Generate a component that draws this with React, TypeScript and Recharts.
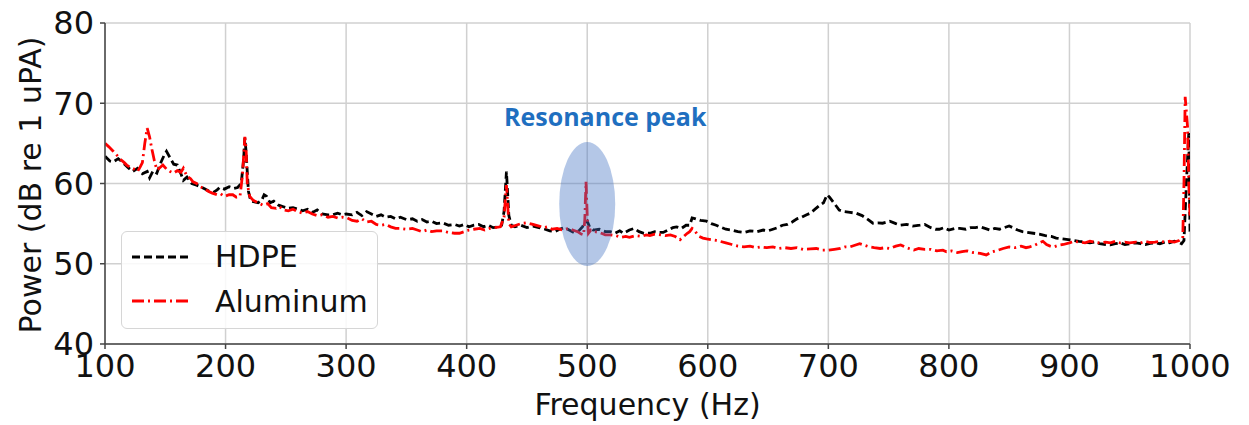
import React from "react";
import {
  CartesianGrid,
  Line,
  LineChart,
  ReferenceDot,
  XAxis,
  YAxis,
} from "recharts";

// HDPE spectrum (Hz, dB)
const hdpeFreq = [
  100, 104, 107, 111, 115, 119, 123, 127, 131, 135, 137, 140, 143, 146, 149, 151, 154, 157, 160, 163,
  165, 168, 172, 176, 179, 183, 187, 190, 193, 195, 199, 203, 207, 210, 213, 215, 216, 217, 219, 221,
  224, 227, 230, 232, 234, 237, 240, 244, 248, 252, 256, 260, 264, 268, 272, 276, 280, 285, 289, 293,
  297, 300, 305, 309, 313, 317, 321, 325, 329, 333, 337, 341, 345, 350, 355, 359, 363, 367, 371, 375,
  380, 385, 390, 394, 398, 402, 406, 410, 414, 418, 422, 426, 429, 431, 433, 435, 437, 440, 445, 450,
  455, 460, 465, 469, 473, 477, 481, 485, 489, 493, 496, 498, 500, 502, 505, 510, 515, 519, 523, 527,
  530, 535, 539, 543, 547, 552, 556, 560, 563, 567, 571, 574, 578, 582, 585, 587, 590, 594, 599, 603,
  607, 610, 615, 620, 625, 630, 635, 641, 646, 650, 654, 658, 662, 666, 670, 674, 678, 682, 685, 689,
  693, 696, 699, 701, 704, 707, 709, 713, 718, 723, 728, 732, 737, 741, 745, 751, 756, 760, 765, 770,
  776, 780, 785, 789, 792, 796, 800, 805, 809, 814, 818, 822, 826, 830, 834, 838, 842, 846, 850, 853,
  857, 861, 865, 870, 875, 880, 885, 889, 894, 899, 904, 908, 913, 917, 921, 925, 930, 934, 938, 942,
  946, 950, 955, 959, 963, 967, 971, 975, 979, 983, 987, 990, 993, 995, 997, 999, 1000,
];
const hdpePower = [
  63.4, 62.8, 62.7, 63.1, 62.6, 62.0, 61.5, 61.9, 61.2, 61.5, 60.7, 61.6, 61.3, 62.5, 63.5, 64.0, 63.2, 62.4, 62.3, 61.2,
  60.4, 60.8, 60.0, 59.8, 59.6, 59.3, 59.0, 58.9, 59.2, 59.5, 59.3, 59.6, 59.4, 59.5, 60.0, 63.0, 65.7, 64.0, 59.0, 57.8,
  57.7, 57.6, 57.9, 58.6, 58.4, 57.6, 57.8, 57.3, 57.1, 56.9, 57.0, 56.8, 56.6, 56.8, 56.4, 56.7, 56.2, 56.1, 56.1, 56.3,
  56.1, 56.2, 56.1, 56.4, 56.0, 56.5, 56.2, 55.9, 56.1, 55.8, 55.9, 55.6, 55.8, 55.5, 55.6, 55.3, 55.5, 55.2, 55.3, 55.0,
  55.1, 54.8, 54.9, 54.7, 54.9, 54.6, 54.8, 54.9, 54.6, 54.8, 54.5, 54.6, 54.8, 56.5, 61.5, 56.0, 54.8, 54.6, 54.8, 54.5,
  54.7, 54.5, 54.3, 54.1, 54.0, 54.3, 54.5, 54.2, 53.9, 54.1, 54.6, 55.0, 55.3, 54.6, 54.2, 54.3, 54.0, 54.0, 53.8, 54.1,
  53.8, 54.2, 54.4, 54.0, 53.8, 53.8, 54.0, 53.9, 53.9, 54.2, 54.5, 54.6, 54.4, 54.8, 54.8, 55.7, 55.6, 55.4, 55.3, 55.0,
  54.8, 54.6, 54.3, 54.2, 54.0, 53.9, 54.1, 54.0, 54.2, 54.1, 54.3, 54.5, 54.8, 54.9, 55.2, 55.6, 55.8, 56.1, 56.3, 56.8,
  57.3, 57.6, 58.6, 58.3, 57.7, 57.1, 56.7, 56.5, 56.4, 56.3, 56.0, 55.6, 55.05, 55.1, 55.05, 55.3, 55.0, 54.8, 54.9, 54.7,
  54.8, 54.9, 54.5, 54.3, 54.3, 54.5, 54.2, 54.4, 54.4, 54.3, 54.5, 54.5, 54.6, 54.4, 54.2, 54.4, 54.3, 54.5, 54.7, 54.5,
  54.2, 54.0, 53.9, 53.8, 53.7, 53.5, 53.4, 53.2, 53.1, 53.0, 52.9, 52.8, 52.7, 52.6, 52.7, 52.5, 52.4, 52.35, 52.5, 52.6,
  52.4, 52.5, 52.6, 52.5, 52.4, 52.55, 52.6, 52.5, 52.7, 52.6, 52.8, 52.7, 52.5, 52.9, 60.0, 66.3, 54.0,
];

// Aluminum spectrum (Hz, dB)
const aluFreq = [
  100, 103, 107, 110, 113, 116, 118, 121, 124, 127, 129, 131, 133, 135, 137, 139, 141, 143, 145, 148,
  151, 154, 157, 160, 163, 165, 168, 171, 173, 176, 179, 182, 186, 189, 193, 196, 199, 203, 206, 209,
  212, 214, 216, 217, 218, 220, 223, 227, 231, 235, 238, 242, 245, 248, 252, 256, 260, 264, 268, 272,
  276, 280, 285, 289, 293, 297, 301, 305, 309, 313, 317, 321, 325, 329, 333, 337, 341, 345, 350, 355,
  359, 363, 367, 371, 375, 380, 385, 390, 394, 398, 402, 406, 411, 415, 419, 423, 428, 431, 433, 435,
  437, 441, 445, 450, 455, 460, 464, 467, 471, 475, 480, 484, 488, 492, 495, 497, 498, 499, 500, 501,
  503, 506, 510, 515, 519, 524, 528, 532, 535, 540, 545, 549, 552, 556, 561, 565, 569, 573, 577, 580,
  583, 585, 587, 589, 591, 593, 596, 599, 603, 607, 610, 615, 620, 625, 630, 635, 640, 644, 649, 654,
  659, 664, 669, 674, 679, 685, 690, 695, 700, 705, 710, 714, 718, 722, 726, 730, 734, 738, 743, 747,
  751, 756, 760, 765, 771, 775, 780, 785, 790, 795, 798, 802, 807, 811, 815, 820, 826, 831, 836, 841,
  845, 850, 855, 860, 864, 867, 871, 875, 878, 881, 884, 887, 891, 895, 900, 904, 908, 913, 917, 921,
  925, 930, 934, 938, 942, 946, 950, 955, 959, 963, 967, 971, 975, 979, 983, 987, 991, 994, 995, 996,
  998, 999, 1000,
];
const aluPower = [
  65.0, 64.6, 64.0, 63.5, 63.0, 62.6, 62.3, 62.0, 61.8, 61.5, 62.0, 62.6, 65.0, 66.9, 65.8, 64.2, 62.8, 61.7, 61.9, 62.3,
  61.8, 61.5, 61.3, 61.6, 61.4, 61.9, 60.9, 60.6, 60.2, 60.0, 59.6, 59.4, 59.0, 58.8, 58.6, 58.7, 58.4, 58.6, 58.6, 58.3,
  58.4, 61.0, 65.8, 64.5, 60.0, 58.4, 57.9, 57.6, 57.3, 57.5, 57.0, 56.9, 57.1, 56.7, 56.6, 56.8, 56.5, 56.3, 56.5, 56.2,
  56.0, 56.1, 55.8, 55.9, 55.7, 55.8, 55.7, 55.4, 55.3, 55.6, 55.2, 55.3, 54.9, 54.8, 54.9, 54.6, 54.4, 54.4, 54.3, 54.4,
  54.2, 54.0, 54.2, 54.0, 54.1, 54.1, 53.9, 53.8, 53.8, 54.0, 54.2, 54.3, 54.4, 54.2, 54.4, 54.5, 54.6, 55.8, 59.8, 55.0,
  54.6, 54.8, 55.0, 55.1, 54.9, 54.7, 54.5, 54.6, 54.3, 54.4, 54.2, 54.4, 54.2, 54.0, 53.7, 53.6, 55.5, 60.2, 56.0, 53.8,
  54.2, 54.0, 53.9, 53.6, 53.6, 53.5, 53.3, 53.4, 53.3, 53.5, 53.4, 53.6, 53.5, 53.7, 53.6, 53.5, 53.6, 53.4, 53.0, 53.4,
  53.8, 54.0, 54.4, 54.2, 53.7, 53.4, 53.2, 53.1, 53.0, 52.9, 52.8, 52.6, 52.4, 52.2, 52.1, 52.2, 52.0, 52.1, 52.0, 52.1,
  51.9, 52.0, 51.9, 52.0, 51.8, 51.85, 51.9, 51.7, 51.7, 51.8, 51.9, 52.1, 52.1, 52.3, 52.5, 52.3, 52.1, 52.0, 51.9, 52.0,
  51.9, 52.2, 52.35, 52.0, 51.7, 51.9, 51.8, 51.8, 51.6, 51.7, 51.5, 51.6, 51.4, 51.5, 51.6, 51.4, 51.3, 51.1, 51.5, 51.7,
  51.9, 52.1, 52.0, 52.2, 52.0, 52.1, 52.3, 52.6, 52.8, 52.4, 52.2, 52.1, 52.3, 52.4, 52.6, 52.8, 52.7, 52.6, 52.8, 52.7,
  52.6, 52.7, 52.6, 52.8, 52.6, 52.7, 52.6, 52.7, 52.6, 52.8, 52.65, 52.7, 52.8, 52.7, 52.8, 52.7, 52.9, 53.2, 60.0, 70.8,
  67.0, 60.0, 56.0,
];

const xTicks = [100, 200, 300, 400, 500, 600, 700, 800, 900, 1000];
const yTicks = [40, 50, 60, 70, 80];

const hdpeData = hdpeFreq.map((f, i) => ({ freq: f, power: hdpePower[i] }));
const aluData = aluFreq.map((f, i) => ({ freq: f, power: aluPower[i] }));

const FONT = "'DejaVu Sans', sans-serif";
const HDPE_DASH = "8 4";
const ALU_DASH = "12 4 2 4";
const LINE_W = 2.8;

function LegendBox() {
  return (
    <div
      style={{
        position: "absolute",
        left: 121,
        top: 231,
        width: 257,
        height: 98,
        boxSizing: "border-box",
        border: "1.5px solid #d6d6d6",
        borderRadius: 6,
        background: "rgba(255,255,255,0.85)",
      }}
    >
      <svg width={257} height={98} style={{ position: "absolute", left: -1, top: -1 }}>
        <line x1={11} x2={71} y1={26} y2={26} stroke="#000" strokeWidth={LINE_W} strokeDasharray={HDPE_DASH} />
        <text x={94} y={36} fontSize={30} fontFamily={FONT} fill="#111">HDPE</text>
        <line x1={11} x2={71} y1={70} y2={70} stroke="#ff0000" strokeWidth={LINE_W} strokeDasharray={ALU_DASH} />
        <text x={94} y={81} fontSize={30} fontFamily={FONT} fill="#111">Aluminum</text>
      </svg>
    </div>
  );
}

function Resonance(props: any) {
  const { cx, cy } = props;
  return (
    <g>
      <ellipse cx={cx} cy={cy} rx={28} ry={62} fill="#4472c4" fillOpacity={0.4} />
      <text
        x={cx + 18}
        y={cy - 78}
        textAnchor="middle"
        fontSize={25}
        fontWeight="bold"
        fontFamily="'Open Sans', sans-serif"
        fill="#1f6fc0"
      >
        Resonance peak
      </text>
    </g>
  );
}

function YLabel() {
  return (
    <text
      transform="translate(41, 185) rotate(-90)"
      textAnchor="middle"
      fontSize={30}
      fill="#111"
      fontFamily={FONT}
    >
      Power (dB re 1 uPA)
    </text>
  );
}

export default function App() {
  return (
    <div style={{ position: "absolute", left: 0, top: 0, width: 1249, height: 425, background: "#fff" }}>
      <LineChart width={1249} height={425} margin={{ top: 23, right: 59, bottom: 0, left: 0 }}>
        <CartesianGrid stroke="#d0d0d0" strokeWidth={1.5} />
        <XAxis
          dataKey="freq"
          type="number"
          domain={[100, 1000]}
          ticks={xTicks}
          allowDataOverflow
          height={81}
          stroke="#444"
          strokeWidth={1.5}
          tickSize={5}
          tickMargin={5}
          tick={{ fontSize: 32, fill: "#111", fontFamily: FONT }}
          label={{
            value: "Frequency (Hz)",
            position: "insideBottom",
            offset: 10,
            fontSize: 30,
            fill: "#111",
            fontFamily: FONT,
          }}
        />
        <XAxis xAxisId="top" orientation="top" type="number" domain={[100, 1000]} height={0} tick={false} tickLine={false} stroke="#444" strokeWidth={1.5} />
        <YAxis
          type="number"
          domain={[40, 80]}
          ticks={yTicks}
          allowDataOverflow
          width={105}
          stroke="#444"
          strokeWidth={1.5}
          tickSize={5}
          tickMargin={6}
          tick={{ fontSize: 32, fill: "#111", fontFamily: FONT }}
          label={<YLabel />}
        />
        <YAxis yAxisId="right" orientation="right" type="number" domain={[40, 80]} width={0} tick={false} tickLine={false} stroke="#444" strokeWidth={1.5} />
        <Line
          data={hdpeData}
          dataKey="power"
          name="HDPE"
          type="linear"
          stroke="#000"
          strokeWidth={LINE_W}
          strokeDasharray={HDPE_DASH}
          dot={false}
          isAnimationActive={false}
        />
        <Line
          data={aluData}
          dataKey="power"
          name="Aluminum"
          type="linear"
          stroke="#ff0000"
          strokeWidth={LINE_W}
          strokeDasharray={ALU_DASH}
          dot={false}
          isAnimationActive={false}
        />
        <ReferenceDot x={500} y={57.45} shape={<Resonance />} ifOverflow="visible" />
      </LineChart>
      <LegendBox />
    </div>
  );
}
